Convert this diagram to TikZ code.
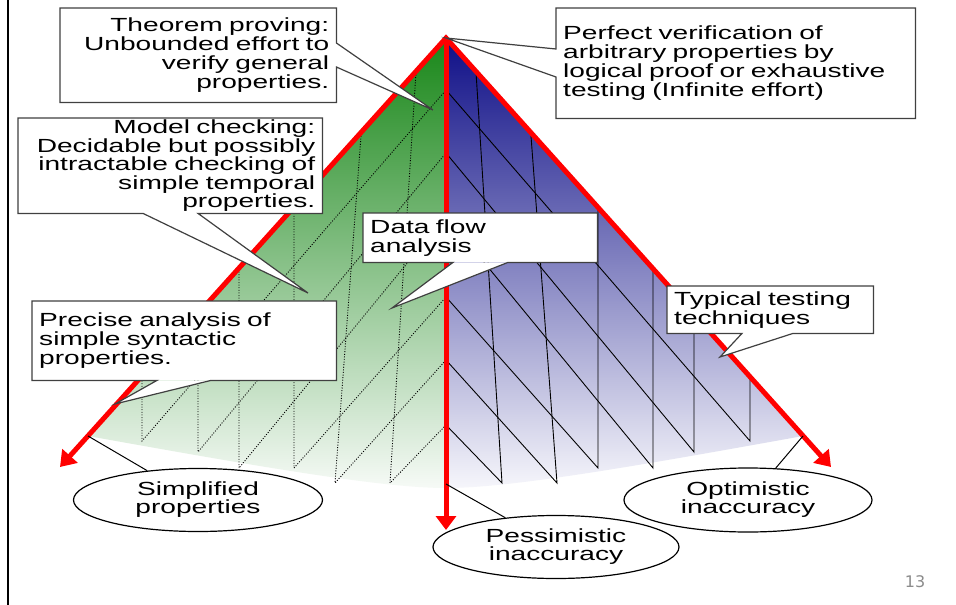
\documentclass[tikz,border=0pt]{standalone}
\usepackage{fontspec}
\usepackage{tikz}
\usetikzlibrary{arrows.meta,shapes.geometric}
\newfontfamily\slidefont{Liberation Sans}[FakeStretch=1.48]
\newfontfamily\pagefont{DejaVu Sans}
\definecolor{gtop}{RGB}{25,135,25}
\definecolor{gbot}{RGB}{246,250,246}
\definecolor{btop}{RGB}{15,15,135}
\definecolor{bbot}{RGB}{246,246,251}
\tikzset{
	note/.style={fill=white, inner xsep=7pt, inner ysep=0pt, anchor=north west, font=\slidefont\fontsize{19}{19.2}\selectfont},
	boxline/.style={draw=black!75, line width=1.2pt},
	wire/.style={black, line width=0.9pt},
	redline/.style={red, line width=5pt},
	thinline/.style={black, line width=1pt},
	oval/.style={ellipse, draw=black, line width=1.2pt, fill=white, inner sep=0pt, align=center, font=\slidefont\fontsize{19}{18}\selectfont}
}
\begin{document}
\begin{tikzpicture}[x=1pt, y=-1pt]
	\fill[white] (0,0) rectangle (956,605);
	\useasboundingbox (0,0) rectangle (956,605);
	\draw[line width=2.6pt] (8,0) -- (8,605);
	\coordinate (apex) at (446,38);
	\coordinate (gl) at (88,436);
	\coordinate (gr) at (803,436);
	\coordinate (gb) at (446,488);
	\coordinate (mid) at (446,484);
	\coordinate (ltip) at (60,467);
	\coordinate (rtip) at (831,467);
	\coordinate (dtip) at (446,530);
	\shade[top color=gtop, bottom color=gbot] (apex) -- (gl) .. controls (250,465) and (380,488) .. (gb) -- cycle;
	\shade[top color=btop, bottom color=bbot] (apex) -- (gr) .. controls (642,465) and (512,488) .. (gb) -- cycle;
	\foreach \xt/\yt/\xb/\yb/\yc in {476/72/502/483/425, 531/136/557/483/360, 598/208/598/468/297, 653/269/653/468/216, 694/315/694/452/153, 750/378/750/441/90}
	{
		\draw[wire] (\xt,\yt) -- (\xb,\yb) -- (446,\yc);
		\draw[wire, dash pattern=on 1pt off 1.6pt] (892-\xt,\yt) -- (892-\xb,\yb) -- (446,\yc);
	}
	\draw[redline, {Triangle[length=15pt,width=20pt]}-{Triangle[length=15pt,width=20pt]}] (ltip) -- (apex) -- (rtip);
	\draw[redline, -{Triangle[length=14pt,width=20pt]}] (apex) -- (dtip);

	\node[note, text width=262pt, minimum height=94pt, align=right] (thm) at (60,8) {Theorem proving:\\Unbounded effort to\\verify general\\properties.};
	\coordinate (thmtip) at (433,110);
	\fill[white] ([yshift=-35pt]thm.north east) -- (thmtip) -- ([yshift=-59pt]thm.north east) -- cycle;
	\draw[boxline] (thm.north west) -- (thm.north east) -- ([yshift=-35pt]thm.north east) -- (thmtip) -- ([yshift=-59pt]thm.north east) -- (thm.south east) -- (thm.south west) -- cycle;

	\node[note, text width=290pt, minimum height=95pt, align=right, font=\slidefont\fontsize{19}{18.5}\selectfont] (mc) at (18,118) {Model checking:\\Decidable but possibly\\intractable checking of\\simple temporal\\properties.};
	\coordinate (mctip) at (308,293);
	\fill[white] ([xshift=125pt]mc.south west) -- (mctip) -- ([xshift=180pt]mc.south west) -- cycle;
	\draw[boxline] (mc.north west) -- (mc.north east) -- (mc.south east) -- ([xshift=180pt]mc.south west) -- (mctip) -- ([xshift=125pt]mc.south west) -- (mc.south west) -- cycle;

	\node[note, text width=220pt, minimum height=49pt, align=left] (df) at (363,213) {Data flow\\analysis};
	\coordinate (dftip) at (392,308);
	\fill[white] ([xshift=90pt]df.south west) -- (dftip) -- ([xshift=145pt]df.south west) -- cycle;
	\draw[boxline] (df.north west) -- (df.north east) -- (df.south east) -- ([xshift=145pt]df.south west) -- (dftip) -- ([xshift=90pt]df.south west) -- (df.south west) -- cycle;

	\node[note, text width=345pt, minimum height=110pt, align=left] (pv) at (556,8) {Perfect verification of\\arbitrary properties by\\logical proof or exhaustive\\testing (Infinite effort)};
	\fill[white] ([yshift=-41pt]pv.north west) -- (apex) -- ([yshift=-69pt]pv.north west) -- cycle;
	\draw[boxline] (pv.north west) -- (pv.north east) -- (pv.south east) -- (pv.south west) -- ([yshift=-69pt]pv.north west) -- (apex) -- ([yshift=-41pt]pv.north west) -- cycle;

	\node[note, text width=192pt, minimum height=47pt, align=left] (tt) at (667,286) {Typical testing\\techniques};
	\coordinate (tttip) at (720,357);
	\fill[white] ([xshift=75pt]tt.south west) -- (tttip) -- ([xshift=126pt]tt.south west) -- cycle;
	\draw[boxline] (tt.north west) -- (tt.north east) -- (tt.south east) -- ([xshift=126pt]tt.south west) -- (tttip) -- ([xshift=75pt]tt.south west) -- (tt.south west) -- cycle;

	\node[note, text width=290pt, minimum height=79pt, align=left] (pa) at (32,301) {Precise analysis of\\simple syntactic\\properties.};
	\coordinate (patip) at (115,404);
	\fill[white] ([xshift=125pt]pa.south west) -- (patip) -- ([xshift=179pt]pa.south west) -- cycle;
	\draw[boxline] (pa.north west) -- (pa.north east) -- (pa.south east) -- ([xshift=179pt]pa.south west) -- (patip) -- ([xshift=125pt]pa.south west) -- (pa.south west) -- cycle;

	\node[oval, minimum width=249pt, minimum height=63pt] (sp) at (198,500) {Simplified\\properties};
	\node[oval, minimum width=246pt, minimum height=63pt] (pi) at (556,547) {Pessimistic\\inaccuracy};
	\node[oval, minimum width=248pt, minimum height=64pt] (oi) at (748,500) {Optimistic\\inaccuracy};
	\draw[thinline] (sp.150) -- (gl);
	\draw[thinline] (pi.150) -- (mid);
	\draw[thinline] (oi.49) -- (gr);

	\node[text=black!45, font=\pagefont\fontsize{16}{16}\selectfont] (page) at (915,582) {13};
\end{tikzpicture}
\end{document}
